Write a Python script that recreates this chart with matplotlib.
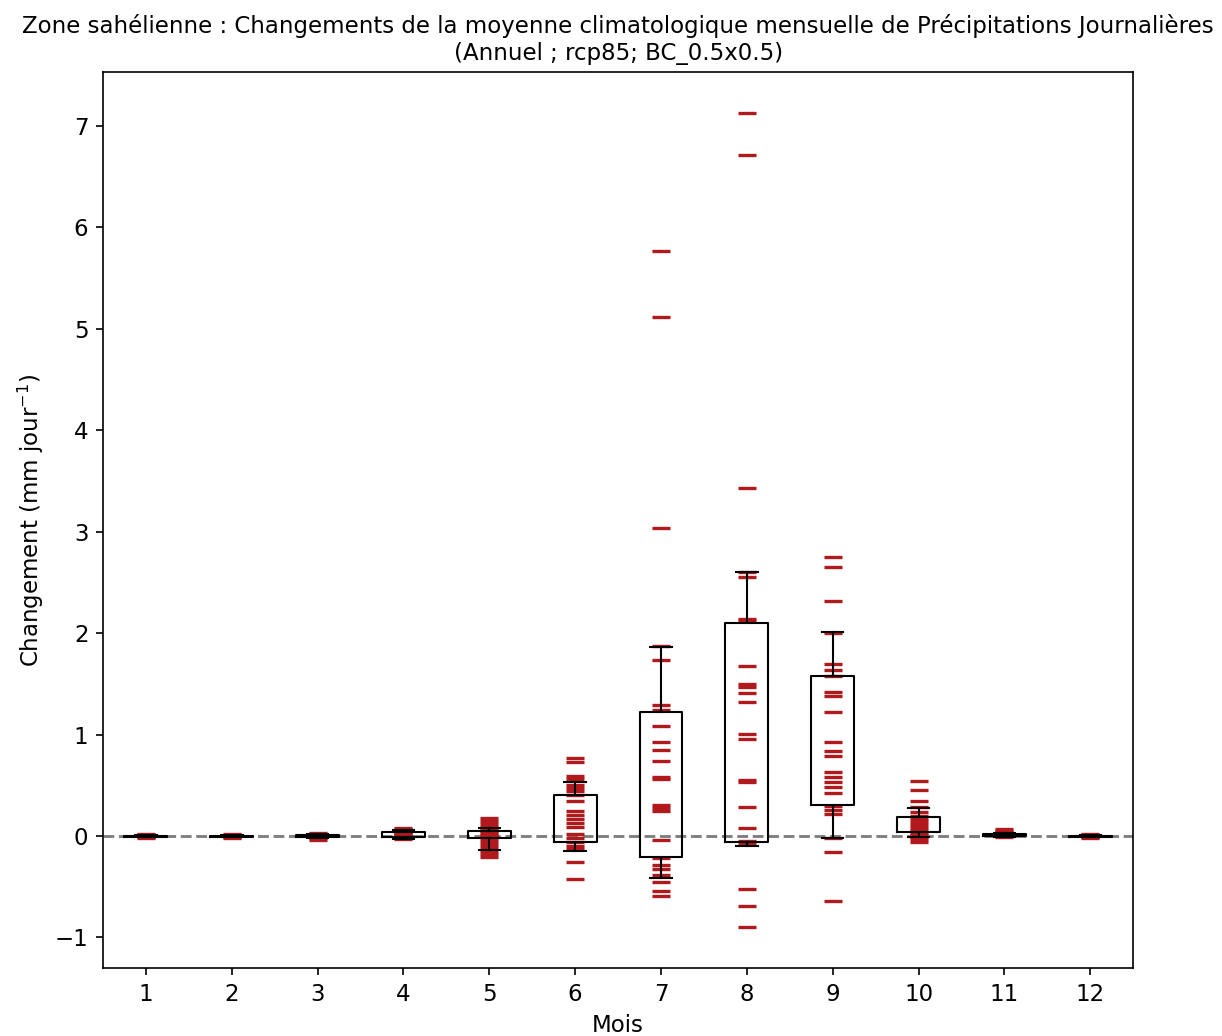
import matplotlib
matplotlib.use("Agg")
import matplotlib.pyplot as plt
import numpy as np

# Months on the x axis
months = [1, 2, 3, 4, 5, 6, 7, 8, 9, 10, 11, 12]

# Individual model changes (mm/day) per month
m01 = [0.02, 0.01, 0.0, -0.01, -0.02]
m02 = [0.02, 0.01, 0.0, -0.01, -0.02]
m03 = [0.03, 0.02, 0.01, 0.0, -0.01, -0.02, -0.04]
m04 = [0.08, 0.07, 0.05, 0.04, 0.03, 0.02, 0.01, 0.0, -0.01, -0.02, -0.03]
m05 = [0.18, 0.15, 0.12, 0.09, 0.07, 0.05, 0.03, 0.01, -0.01, -0.03, -0.06,
       -0.09, -0.12, -0.15, -0.18, -0.21]
m06 = [0.77, 0.73, 0.59, 0.56, 0.5, 0.47, 0.44, 0.4, 0.35, 0.25, 0.21, 0.17,
       0.13, 0.09, 0.02, -0.02, -0.06, -0.1, -0.13, -0.26, -0.42]
m07 = [5.77, 5.12, 3.04, 1.87, 1.74, 1.29, 1.24, 1.08, 0.93, 0.85, 0.74, 0.58,
       0.56, 0.31, 0.28, 0.25, -0.04, -0.22, -0.29, -0.33, -0.38, -0.45,
       -0.54, -0.59]
m08 = [7.13, 6.71, 3.43, 2.6, 2.55, 2.14, 2.12, 1.68, 1.5, 1.47, 1.41, 1.32,
       1.01, 0.96, 0.55, 0.53, 0.29, 0.08, -0.05, -0.08, -0.52, -0.69, -0.9]
m09 = [2.75, 2.65, 2.32, 2.0, 1.7, 1.64, 1.58, 1.42, 1.38, 1.22, 0.93, 0.84,
       0.79, 0.63, 0.58, 0.53, 0.48, 0.42, 0.3, 0.26, 0.22, -0.02, -0.16,
       -0.64]
m10 = [0.54, 0.45, 0.35, 0.29, 0.24, 0.2, 0.17, 0.14, 0.11, 0.08, 0.05, 0.03,
       0.01, -0.01, -0.03, -0.06]
m11 = [0.07, 0.05, 0.04, 0.03, 0.02, 0.01, 0.0, -0.01]
m12 = [0.02, 0.01, 0.0, -0.01, -0.02]
values = [m01, m02, m03, m04, m05, m06, m07, m08, m09, m10, m11, m12]

# Box statistics (quartiles and whisker ends)
q1 = [-0.005, -0.005, -0.01, -0.005, -0.02, -0.06, -0.21, -0.06, 0.31, 0.04, 0.0, -0.005]
q3 = [0.005, 0.005, 0.01, 0.035, 0.05, 0.40, 1.22, 2.10, 1.58, 0.19, 0.02, 0.005]
whislo = [-0.01, -0.01, -0.02, -0.03, -0.14, -0.15, -0.41, -0.10, -0.02, -0.01, -0.01, -0.01]
whishi = [0.01, 0.01, 0.02, 0.055, 0.08, 0.53, 1.86, 2.60, 2.01, 0.28, 0.03, 0.01]


def main():
    plt.rcParams["font.size"] = 11
    fig = plt.figure(figsize=(1222 / 150, 1036 / 150), dpi=150)
    ax = fig.add_axes([0.0843, 0.0656, 0.8430, 0.8649])

    # individual members as red dashes
    for m, vals in zip(months, values):
        ax.plot(np.full(len(vals), m), vals, "_", color="#b2191c",
                markersize=8.2, markeredgewidth=1.6, zorder=2)

    # boxes from the percentiles
    stats = []
    for i in range(len(months)):
        stats.append({"q1": q1[i], "q3": q3[i], "med": q1[i],
                      "whislo": whislo[i], "whishi": whishi[i], "fliers": []})
    ax.bxp(stats, positions=months, widths=0.5, showfliers=False,
           medianprops={"linewidth": 0},
           boxprops={"color": "black"}, whiskerprops={"color": "black"},
           capprops={"color": "black"})

    ax.axhline(0, color="gray", linestyle="--", linewidth=1.4, zorder=1)

    ax.set_xlim(0.5, 12.5)
    ax.set_xticks(months)
    ax.set_xticklabels([str(m) for m in months])
    ax.set_xlabel("Mois")
    ax.set_ylabel("Changement (mm jour$^{-1}$)")
    ax.set_title("Zone sahélienne : Changements de la moyenne climatologique "
                 "mensuelle de Précipitations Journalières\n"
                 "(Annuel ; rcp85; BC_0.5x0.5)", fontsize=11)

    fig.savefig("out.png", dpi=150)


if __name__ == "__main__":
    main()
